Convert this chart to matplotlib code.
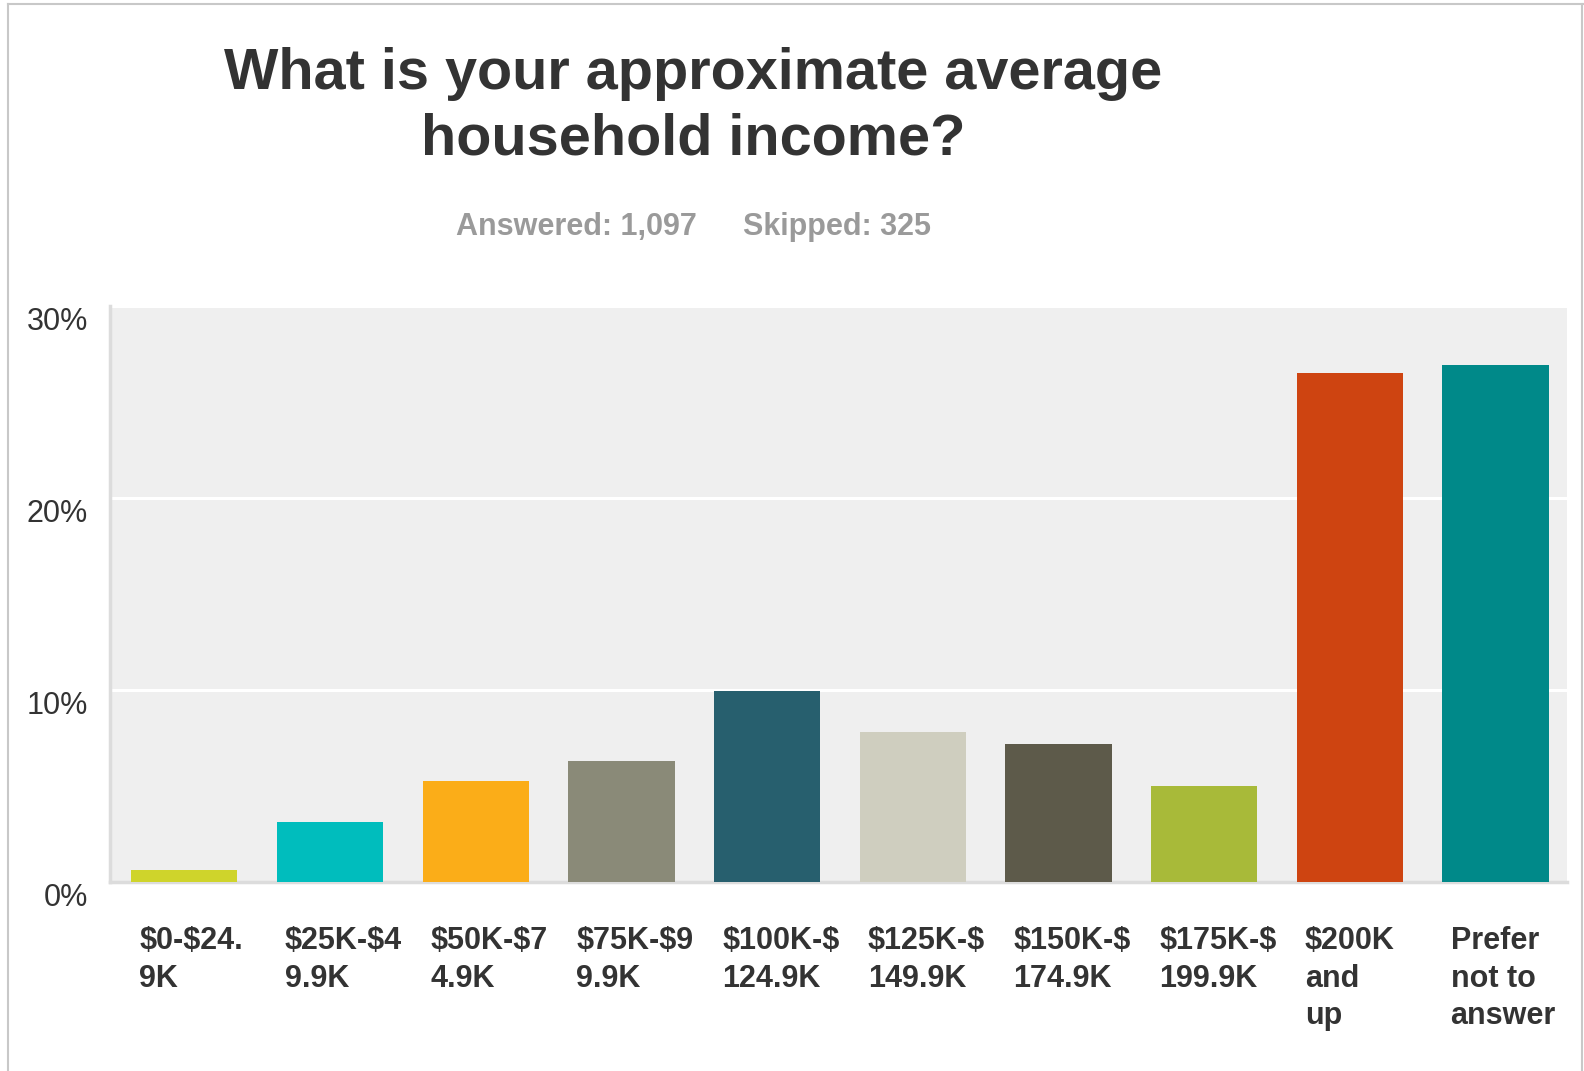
import matplotlib
matplotlib.use("Agg")
import matplotlib.pyplot as plt
from matplotlib.transforms import ScaledTranslation
from matplotlib.lines import Line2D

categories = ["$0-$24.\n9K", "$25K-$4\n9.9K", "$50K-$7\n4.9K", "$75K-$9\n9.9K",
              "$100K-$\n124.9K", "$125K-$\n149.9K", "$150K-$\n174.9K",
              "$175K-$\n199.9K", "$200K\nand\nup", "Prefer\nnot to\nanswer"]
values = [0.6, 3.15, 5.25, 6.3, 9.95, 7.8, 7.2, 5.0, 26.5, 26.95]
colors = ["#cfd42b", "#00bdbd", "#fbad18", "#8a8a78", "#275f6e",
          "#cfcebf", "#5d5a4a", "#a8ba39", "#ce4411", "#008989"]
yticks = [0, 10, 20, 30]
ytick_labels = ["0%", "10%", "20%", "30%"]
title = "What is your approximate average\nhousehold income?"
answered = "Answered: 1,097"
skipped = "Skipped: 325"

plt.rcParams['font.family'] = ['Liberation Sans', 'DejaVu Sans']
plt.rcParams['text.parse_math'] = False

W, H = 1584, 1071
fig = plt.figure(figsize=(W / 100, H / 100), dpi=100)
fig.patch.set_facecolor("white")

left, right, top, bottom = 110, 1567, 306, 882
ax = fig.add_axes([left / W, 1 - bottom / H, (right - left) / W, (bottom - top) / H])
ax.set_facecolor("#efefef")

x = list(range(len(values)))
bw = 0.73
ax.bar(x, values, width=bw, color=colors, zorder=3)
ax.set_xlim(-0.51, len(values) - 0.51)
ax.set_ylim(0, 30)

ax.set_yticks(yticks)
ax.set_yticklabels(ytick_labels, fontsize=22, color="#333333")
ax.tick_params(axis="y", length=0, pad=16)
for lab in ax.get_yticklabels():
    lab.set_transform(lab.get_transform() + ScaledTranslation(0, -0.12, fig.dpi_scale_trans))

ax.set_xticks(x)
ax.set_xticklabels(categories, fontsize=22, fontweight="bold", color="#333333",
                   ha="left", va="top", linespacing=1.32)
ax.tick_params(axis="x", length=0, pad=32)
for lab in ax.get_xticklabels():
    lab.set_transform(lab.get_transform() + ScaledTranslation(-0.45, 0, fig.dpi_scale_trans))

ax.grid(axis="y", color="white", linewidth=2.2, zorder=1)
ax.set_axisbelow(True)
for s in ["top", "right"]:
    ax.spines[s].set_visible(False)
for s in ["left", "bottom"]:
    ax.spines[s].set_color("#dcdcdc")
    ax.spines[s].set_linewidth(2.5)

fig.text(693 / W, 1 - 107 / H, title, ha="center", va="center", fontsize=41.5,
         fontweight="bold", color="#333333", linespacing=1.27)
fig.text(576 / W, 1 - 227 / H, answered, ha="center", va="center", fontsize=22,
         fontweight="bold", color="#9a9a9a")
fig.text(837 / W, 1 - 227 / H, skipped, ha="center", va="center", fontsize=22,
         fontweight="bold", color="#9a9a9a")

# screenshot frame lines
fig.add_artist(Line2D([8 / W, 1], [1 - 4 / H, 1 - 4 / H], transform=fig.transFigure,
                      color="#c8c8c8", linewidth=1.5))
fig.add_artist(Line2D([8 / W, 8 / W], [0, 1 - 4 / H], transform=fig.transFigure,
                      color="#c8c8c8", linewidth=1.5))
fig.add_artist(Line2D([1582 / W, 1582 / W], [0, 1 - 4 / H], transform=fig.transFigure,
                      color="#c8c8c8", linewidth=1.5))

fig.savefig("out.png", dpi=100, facecolor="white")
